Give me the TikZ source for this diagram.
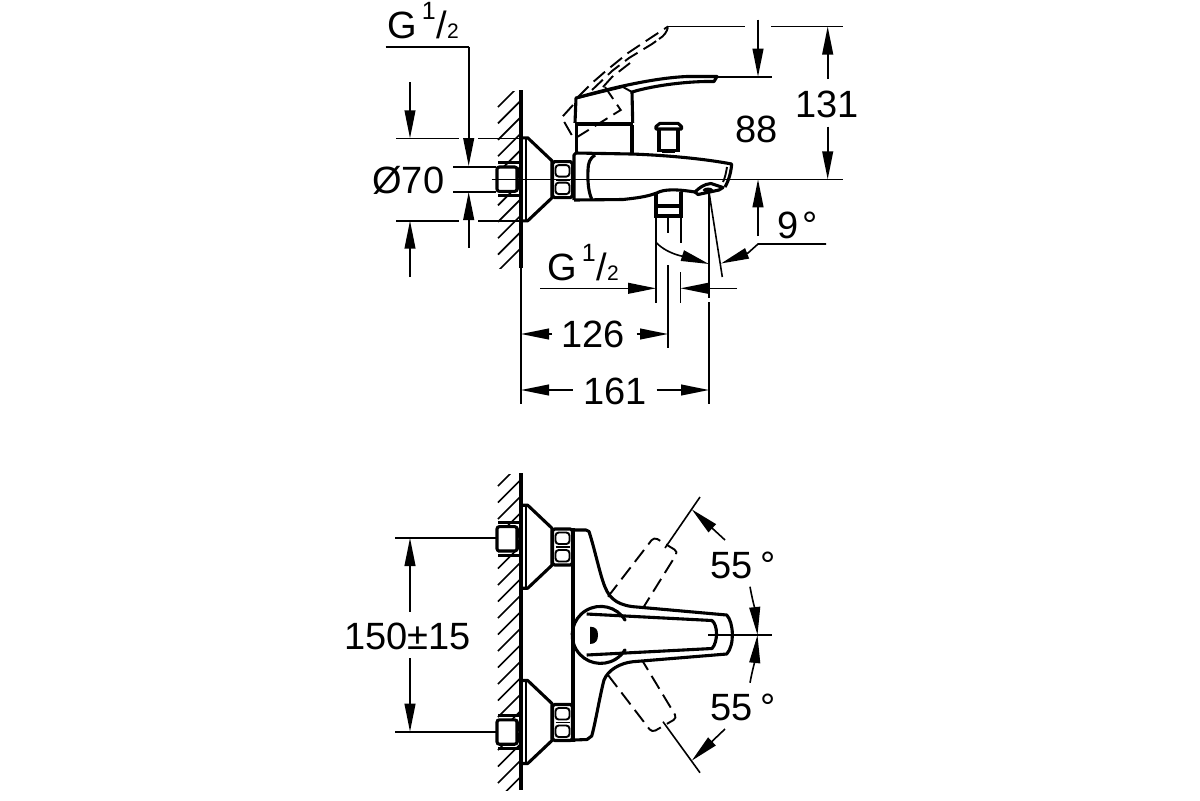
\documentclass[tikz,border=0pt]{standalone}
\usepackage{fontspec}
\setmainfont{Liberation Sans}
\usetikzlibrary{arrows.meta}
\newcommand{\gthread}{G\kern2.4pt\raisebox{9.3pt}{\fontsize{12.5}{12.5}\selectfont 1}\kern.5pt/{\fontsize{10.5}{10.5}\selectfont 2}}
\newcommand{\flangeshape}[1]{%
  \begin{scope}[shift={(0,#1)}]
    \draw[heavy,line join=round] (521,-41.5)--(527.7,-41.5)--(552,-18.5)--(552,18.5)--(527.7,41.5)--(521,41.5);
    \draw[medium] (525.9,-41.5)--(525.9,41.5);
  \end{scope}}
\newcommand{\nutshape}[1]{%
  \begin{scope}[shift={(552.5,#1)}]
    \draw[heavy,line join=round] (2,-18)--(18,-18)--(20,-16)--(20,16)--(18,18)--(2,18)--(0,16)--(0,-16)--cycle;
    \draw[medium,rounded corners=1.6pt] (3,-14.5) rectangle (17,-3) (3,3) rectangle (17,14.5);
    \draw[medium] (3,0)--(17,0);
  \end{scope}}
\newcommand{\fitshape}[1]{%
  \begin{scope}[shift={(0,#1)}]
    \draw[heavy,fill=white,rounded corners=1.2pt] (497,-12.2) rectangle (517,12.2);
    \draw[heavy] (498,-16.5)--(519,-16.5) (498,16.5)--(519,16.5);
    \draw[medium] (517,-12) .. controls (520,-5) and (520,5) .. (517,12);
  \end{scope}}
\tikzset{
  fine/.style={line width=0.8pt},
  medium/.style={line width=0.95pt},
  heavy/.style={line width=1.55pt},
  hatchline/.style={line width=0.85pt},
  dashline/.style={line width=0.95pt,dash pattern=on 7.5pt off 3.5pt},
  tipend/.style={-{Triangle[length=14pt,width=5.4pt]}},
  dimtext/.style={anchor=base west,inner sep=0pt,font=\fontsize{19}{20}\selectfont},
}
\begin{document}
\begin{tikzpicture}[x=0.5pt,y=-0.5pt]
\useasboundingbox (0,0) rectangle (1200,800);
\fill[white] (0,0) rectangle (1200,800);

% ---------- wall, side view ----------
\begin{scope}
  \clip (497,91) rectangle (521,268);
  \foreach \k in {0,...,10} \draw[hatchline] (498,107+16.4*\k)--(522,83+16.4*\k);
\end{scope}
\draw[heavy] (521,90)--(521,268);
\draw[fine] (521,268)--(521,404);

% ---------- dashed lever, side view ----------
\draw[dashline] (578,97)--(592,83)--(607,70)--(628,53)--(652,37)--(668,26.5);
\draw[dashline] (592,90)--(612,71)--(629,58)--(652,44)--(659,39);
\draw[dashline] (659,39) .. controls (664,36) and (667,32) .. (668,27);
\draw[dashline] (603,87)--(612,77)--(630,63);
\draw[dashline] (573,105)--(561.7,117.5)--(574,139)--(620.7,110)--(605,87);

% ---------- faucet, side view ----------
\flangeshape{179.3}
\nutshape{179.6}
\fitshape{179.2}
\draw[heavy,line join=round] (574,200)--(574,155)--(576,153)--(631.7,154)
  .. controls (660,155) and (700,158) .. (731.7,164)
  .. controls (731,172) and (729,180) .. (725,187);
\draw[heavy,line join=round] (574,200)--(623,199.5)
  .. controls (636,198) and (646,197) .. (656.7,193)
  .. controls (664,189) and (676,189) .. (695,192);
\draw[heavy,line join=round] (595,155) .. controls (590,158) and (588,163) .. (588,170)
  .. controls (587.5,182) and (588.5,192) .. (591.7,199);
\draw[medium] (727,167) .. controls (726,173) and (725,178) .. (723,182);
% axis
\draw[fine] (491.5,179.3)--(843,179.3);
% aerator
\draw[heavy,line join=round] (695,192) .. controls (699,188) and (704,184) .. (711,183.5)
  -- (723,187.5) -- (719,190) -- (698,194.5) -- cycle;
\draw[medium,fill=black] (708,190) ellipse (4 and 1.5);
% column
\draw[heavy] (576.5,125)--(576.5,153) (632,125)--(632,153);
\draw[line width=1.9pt] (575,124.3)--(632.7,124.3);
\draw[heavy,line join=round] (575,123)--(576,98)
  .. controls (600,91) and (650,78) .. (687,76.5)--(717,76.5)--(714,81.5)
  .. controls (690,81) and (655,85) .. (632,92)--(632.7,123);
\draw[medium] (632,92)--(623,87)--(578,98);
% diverter knob
\draw[heavy,line join=round] (656,129)--(656,126.5)--(660,123.3)--(678,123.3)--(681.5,126.5)--(681.5,129)--cycle;
\draw[heavy] (659,129)--(659,150.7)--(678,150.7)--(678,129);
\draw[heavy] (662,151.5)--(675,151.5);
% lower outlet
\draw[heavy] (656,193)--(656,216)--(681,216)--(681,192);
\draw[heavy] (656,206)--(681,206);

% ---------- side view dimensions ----------
% G 1/2 and O70
\draw[fine] (385.7,46.7)--(468.7,46.7);
\draw[fine,tipend] (468.7,46.7)--(468.7,166);
\draw[fine,tipend] (468.7,248)--(468.7,192);
\draw[fine] (396,138.3)--(459,138.3) (478,138.3)--(520,138.3);
\draw[fine] (396,220.7)--(459,220.7) (478,220.7)--(520,220.7);
\draw[fine] (453,166.7)--(496,166.7) (453,191.7)--(496,191.7);
\draw[fine,tipend] (410,82)--(410,138.3);
\draw[fine,tipend] (410,277)--(410,220.7);
% height
\draw[fine] (668,26.3)--(745,26.3) (771,26.3)--(842.7,26.3);
\draw[fine] (717,76.7)--(771.7,76.7);
\draw[fine,tipend] (758,19.5)--(758,76.7);
\draw[fine,tipend] (758,236)--(758,179.3);
\draw[fine,tipend] (827.7,79)--(827.7,26.5);
\draw[fine,tipend] (827.7,126.7)--(827.7,179.3);
% outlet extension lines
\draw[fine] (656,216)--(656,303);
\draw[fine] (681,216)--(681,243) (680.5,272)--(680.5,303);
\draw[fine] (668,216)--(668,233) (668,265)--(668,348);
\draw[fine] (709,192)--(709,298) (709,302)--(709,404);
\draw[fine] (709,192)--(722.3,277);
% 9 degrees
\draw[fine,tipend] (656.7,243) .. controls (668,255) and (690,258) .. (709,264);
\draw[fine,tipend] (826,244)--(758,244)--(748,253)--(721,263.5);
% thread
\draw[fine,tipend] (540,288.3)--(656,288.3);
\draw[fine,tipend] (737,288.3)--(680.5,288.3);
% 126, 161
\draw[fine,tipend] (552,334)--(521,334);
\draw[fine,tipend] (636.7,334)--(668,334);
\draw[fine,tipend] (572.7,390)--(521,390);
\draw[fine,tipend] (656.7,390)--(709,390);

% ---------- wall, front view ----------
\begin{scope}
  \clip (497,474) rectangle (521,790);
  \foreach \k in {0,...,19} \draw[hatchline] (498,486+16.5*\k)--(522,462+16.5*\k);
\end{scope}
\draw[heavy] (521,473)--(521,790);

% ---------- faucet, front view ----------
\flangeshape{546.7}
\flangeshape{722}
\nutshape{547}
\nutshape{722.5}
\fitshape{538.8}
\fitshape{732}
\draw[heavy] (573,528)--(573,742);
\draw[heavy,line join=round] (574,530)--(586,530)--(589,531.5)
  .. controls (595,550) and (600,575) .. (605,587)
  .. controls (610,600) and (620,606) .. (637,607)
  --(726.7,615)
  .. controls (733.5,622) and (735,645) .. (726.7,654)
  --(633,661.7)
  .. controls (620,663) and (608,670) .. (604,680)
  .. controls (600,695) and (595,725) .. (591.7,736)
  --(587,739.5)--(574,740);
\draw[heavy] (625,620) arc[start angle=-31.5,end angle=-328.5,radius=28.5];
\draw[heavy,line join=round] (586.7,614)--(712,620.5)
  .. controls (718,625) and (718,642) .. (712,648.5)--(586.7,655);
\fill (590,626.7) .. controls (596,626.7) and (598,630) .. (598,635)
  .. controls (598,640) and (596,644) .. (590,644)--cycle;
\fill (625,620) circle (1.6) (625,650) circle (1.6);
% dashed lever positions
\draw[dashline,rounded corners=2pt] (608,596.7)--(654,537)--(678,551.7)--(643,608);
\draw[dashline,rounded corners=2pt] (608,675)--(652,732.5)--(677,718)--(643,661.7);
\draw[fine] (665,548)--(700,497);
\draw[fine] (663,721.7)--(700,772.7);
\draw[fine,tipend] (725,540)--(691.7,509.3);
\draw[fine,tipend] (725,729)--(691.7,760.7);
\draw[fine] (708,635)--(771.7,635);
\draw[fine,tipend] (750,586.7) .. controls (752,598) and (755,610) .. (757.5,635);
\draw[fine,tipend] (750,682.7) .. controls (752,672) and (755,660) .. (757.5,635);
% 150
\draw[fine] (395,538)--(496,538) (395,731.7)--(496,731.7);
\draw[fine,tipend] (410,611.7)--(410,538);
\draw[fine,tipend] (410,658)--(410,731.7);

% ---------- labels ----------
\node[dimtext] (gtop) at (387,38) {\gthread};
\node[dimtext] (phi) at (372,193) {Ø70};
\node[dimtext] (t88) at (735,142) {88};
\node[dimtext] (t131) at (795,117) {131};
\node[dimtext] (t9) at (777,238) {9\kern2pt°};
\node[dimtext] (glow) at (547,280) {\gthread};
\node[dimtext] (t126) at (561,347) {126};
\node[dimtext] (t161) at (583,404) {161};
\node[dimtext] (t55a) at (710,578) {55\kern4pt°};
\node[dimtext] (t55b) at (710,720) {55\kern4pt°};
\node[dimtext] (t150) at (344,649) {150±15};
\end{tikzpicture}
\end{document}
